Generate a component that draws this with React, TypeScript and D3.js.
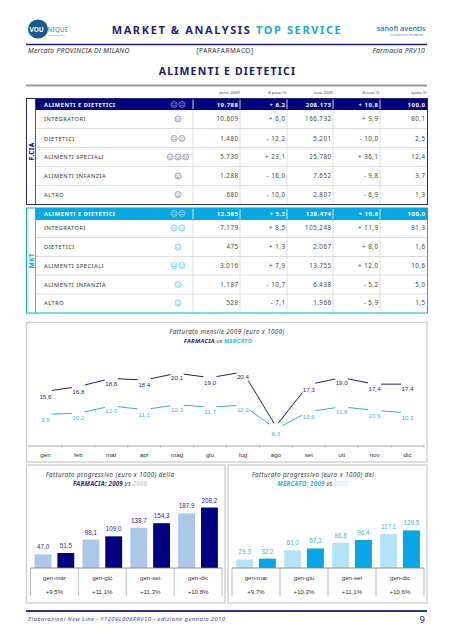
import React from "react";
import * as d3 from "d3";

const NAVY = "#000080";
const DEEP = "#1f1f6e";
const CYAN = "#0aa8e0";
const LINE_CYAN = "#2fb4d0";
const GREY = "#cfcfcf";
const SANS = "'Noto Sans', sans-serif";
const ARIAL = "'Liberation Sans', Arial, sans-serif";

const columnHeads = ["pezzi 2009", "Δ pezzi %", "euro 2009", "Δ euro %", "quota %"];
const rowNames = ["ALIMENTI E DIETETICI", "INTEGRATORI", "DIETETICI", "ALIMENTI SPECIALI", "ALIMENTI INFANZIA", "ALTRO"];
const fciaCells = [
  ["19.788", "+ 6,2", "208.173", "+ 10,8", "100,0"],
  ["10.609", "+ 6,0", "166.732", "+ 9,9", "80,1"],
  ["1.480", "- 12,2", "5.201", "- 10,0", "2,5"],
  ["5.730", "+ 23,1", "25.780", "+ 36,1", "12,4"],
  ["1.288", "- 16,0", "7.652", "- 9,8", "3,7"],
  ["680", "- 10,0", "2.807", "- 6,9", "1,3"],
];
const mktCells = [
  ["12.385", "+ 5,2", "129.474", "+ 10,6", "100,0"],
  ["7.179", "+ 8,5", "105.248", "+ 11,9", "81,3"],
  ["475", "+ 1,3", "2.067", "+ 8,0", "1,6"],
  ["3.016", "+ 7,9", "13.755", "+ 12,0", "10,6"],
  ["1.187", "- 10,7", "6.438", "- 5,2", "5,0"],
  ["528", "- 7,1", "1.966", "- 5,9", "1,5"],
];
const fciaFaces = ["hn", "n", "ns", "hhh", "s", "s"];
const mktFaces = ["hn", "nh", "n", "nh", "s", "s"];

const months = ["gen", "feb", "mar", "apr", "mag", "giu", "lug", "ago", "set", "ott", "nov", "dic"];
const farmaciaMonthly = [15.6, 16.8, 18.8, 18.4, 20.1, 19.0, 20.4, 7.0, 17.3, 19.0, 17.4, 17.4];
const mercatoMonthly = [9.9, 10.2, 12.0, 11.1, 12.3, 11.7, 12.2, 6.3, 10.6, 11.8, 10.9, 10.3];

const periods = ["gen-mar", "gen-giu", "gen-set", "gen-dic"];
const farmacia2008 = [47.0, 98.1, 138.7, 187.9];
const farmacia2009 = [51.5, 109.0, 154.3, 208.2];
const farmaciaDelta = ["+9,5%", "+11,1%", "+11,3%", "+10,8%"];
const mercato2008 = [29.3, 61.0, 86.8, 117.1];
const mercato2009 = [32.2, 67.3, 96.4, 129.5];
const mercatoDelta = ["+9,7%", "+10,3%", "+11,1%", "+10,6%"];

const fmt = (v: number) => v.toFixed(1).replace(".", ",");

function Face({ x, y, kind, color }: { x: number; y: number; kind: string; color: string }) {
  const mouth =
    kind === "h" ? `M${x - 1.6} ${y + 0.7}Q${x} ${y + 2.3} ${x + 1.6} ${y + 0.7}` :
    kind === "s" ? `M${x - 1.6} ${y + 1.8}Q${x} ${y + 0.2} ${x + 1.6} ${y + 1.8}` :
    `M${x - 1.7} ${y + 1}H${x + 1.7}`;
  return (
    <g stroke={color} fill="none" strokeWidth={0.6} opacity={0.8}>
      <circle cx={x} cy={y} r={3} />
      <path d={mouth} />
      <path d={`M${x - 1.7} ${y - 0.8}H${x - 0.4}M${x + 0.4} ${y - 0.8}H${x + 1.7}`} />
    </g>
  );
}

function Block({ top, headBottom, seps, bottom, textYs, cells, faces, color, side }: any) {
  const colEdges = [193, 240, 287, 333, 380, 427];
  return (
    <g>
      <rect x={26.5} y={top} width={401} height={headBottom - top} fill={color} />
      <rect x={27} y={top} width={8.5} height={bottom - top} fill="#fff" />
      {seps.map((y: number) => <line key={y} x1={35.5} x2={426.5} y1={y} y2={y} stroke="#d4d4d4" strokeWidth={0.8} />)}
      {colEdges.slice(0, 5).map((x, i) => (
        <g key={x}>
          <line x1={x} x2={x} y1={top + 1} y2={headBottom - 1} stroke="#fff" strokeWidth={0.8} />
          <line x1={x} x2={x} y1={headBottom} y2={bottom} stroke="#d4d4d4" strokeWidth={0.8} />
        </g>
      ))}
      <rect x={26.5} y={top} width={401} height={bottom - top} fill="none" stroke={color === NAVY ? "#2a2a66" : color} strokeWidth={1} />
      <line x1={35.5} x2={35.5} y1={top} y2={bottom} stroke={color === NAVY ? "#2a2a66" : color} strokeWidth={0.8} />
      <text transform={`translate(33.5,${(headBottom + bottom) / 2 - 6}) rotate(-90)`} textAnchor="middle" fontFamily={SANS} fontWeight={700} fontSize={6.5} letterSpacing={0.4} fill={color === NAVY ? NAVY : color}>{side}</text>
      {rowNames.map((n, r) => (
        <text key={n} x={44} y={textYs[r] + 2} fontFamily={SANS} fontSize={5.7} fontWeight={r === 0 ? 700 : 400} letterSpacing={0.5} fill={r === 0 ? "#fff" : "#333"}>{n}</text>
      ))}
      {faces.map((f: string, r: number) => {
        const cx = 178;
        return f.split("").map((k, i) => (
          <Face key={i} x={cx + (i - (f.length - 1) / 2) * 7.8} y={textYs[r]} kind={k} color={r === 0 ? "#fff" : color === NAVY ? "#3a3a90" : color} />
        ));
      })}
      {cells.map((row: string[], r: number) => row.map((c, j) => (
        <text key={j} x={colEdges[j + 1] - 1.5} y={textYs[r] + 2.2} textAnchor="end" fontFamily={SANS} fontSize={r === 0 ? 6 : 6.2} fontWeight={r === 0 ? 700 : 400} letterSpacing={0.5} fill={r === 0 ? "#fff" : "#444"}>{c}</text>
      )))}
    </g>
  );
}

function BarPanel({ x0, x1, a, b, deltas, light, dark, labelColor, title, titleColor, subject, yearColor, titleX }: any) {
  const base = 568;
  const y = d3.scaleLinear().domain([0, 210]).range([base, 507]);
  const gx = d3.scaleBand<string>().domain(periods).range([x0 + 4, x1 - 3]);
  const bx = d3.scaleBand<string>().domain(["a", "b"]).range([0, gx.bandwidth()]).paddingInner(0.26).paddingOuter(0.18);
  return (
    <g>
      <rect x={x0} y={465} width={x1 - x0} height={138} fill="#fff" stroke={GREY} strokeWidth={1.4} />
      <text x={titleX} y={476.5} textAnchor="middle" fontFamily={SANS} fontStyle="italic" fontSize={6.2} letterSpacing={0.42} fill="#333">{title}</text>
      <text x={titleX} y={485.5} textAnchor="middle" fontFamily={SANS} fontStyle="italic" fontSize={6.2} letterSpacing={0.2}>
        <tspan fontWeight={700} fill={titleColor}>{subject}: 2009</tspan>
        <tspan fill="#333">{"   vs   "}</tspan>
        <tspan fontWeight={700} fill={yearColor}>2008</tspan>
      </text>
      {periods.map((p, i) => {
        const g = gx(p) as number;
        return (
          <g key={p}>
            {[["a", a[i], light], ["b", b[i], dark]].map(([k, v, col]: any) => (
              <g key={k}>
                <rect x={g + (bx(k) as number)} y={y(v)} width={bx.bandwidth()} height={base - y(v)} fill={col} />
                <text x={g + (bx(k) as number) + bx.bandwidth() / 2} y={y(v) - 5} textAnchor="middle" fontFamily={ARIAL} fontSize={6.3} fill={labelColor}>{fmt(v)}</text>
              </g>
            ))}
            <text x={g + gx.bandwidth() / 2} y={580} textAnchor="middle" fontFamily={ARIAL} fontSize={6.1} fill="#333">{p}</text>
            <text x={g + gx.bandwidth() / 2} y={593.5} textAnchor="middle" fontFamily={ARIAL} fontSize={6.1} fill="#333">{deltas[i]}</text>
            <line x1={g} x2={g} y1={base} y2={596} stroke="#9a9a9a" strokeWidth={0.7} />
          </g>
        );
      })}
      <line x1={x1 - 3} x2={x1 - 3} y1={base} y2={596} stroke="#9a9a9a" strokeWidth={0.7} />
      <line x1={x0 + 4} x2={x1 - 3} y1={base} y2={base} stroke="#777" strokeWidth={0.8} />
    </g>
  );
}

export default function App() {
  const xBand = d3.scaleBand<string>().domain(months).range([29, 424]);
  const cx = (m: string) => (xBand(m) as number) + xBand.bandwidth() / 2;
  const y = d3.scaleLinear().domain([6.3, 20.4]).range([429, 372]);
  const lineGen = (vals: number[]) =>
    d3.line<number>().x((_, i) => cx(months[i])).y((d) => y(d))(vals) as string;
  const labels = (vals: number[], color: string) =>
    vals.map((v, i) => (
      <g key={i}>
        <rect x={cx(months[i]) - 6.5} y={y(v) - 3} width={13} height={11.5} fill="#fff" />
        <text x={cx(months[i])} y={y(v) + 7.2} textAnchor="middle" fontFamily={ARIAL} fontSize={6.2} fill={color}>{fmt(v)}</text>
      </g>
    ));

  return (
    <svg width={453} height={640} viewBox="0 0 453 640" style={{ position: "absolute", left: 0, top: 0, background: "#fff" }}>
      {/* header */}
      <ellipse cx={38} cy={29} rx={10} ry={9.5} fill="#1a5a90" />
      <text x={29.5} y={31.5} fontFamily={SANS} fontWeight={700} fontSize={6.5} fill="#fff">VOU</text>
      <text x={47.5} y={31.5} fontFamily={SANS} fontWeight={400} fontSize={6.2} letterSpacing={0.3} fill="#2f7f9f">NIQUE</text>
      <text x={48} y={35.5} fontFamily={SANS} fontSize={2.5} fill="#6a9ab0">data solutions</text>
      <text x={227} y={34} textAnchor="middle" fontFamily={SANS} fontWeight={700} fontSize={11} letterSpacing={1.62}>
        <tspan fill="#1f1f6e">MARKET &amp; ANALYSIS </tspan>
        <tspan fill="#1aa9d8">TOP SERVICE</tspan>
      </text>
      <text x={425.5} y={31} textAnchor="end" fontFamily={SANS} fontWeight={600} fontSize={7.2} fill="#3a7fb8">sanofi aventis</text>
      <text x={423} y={35.5} textAnchor="end" fontFamily={SANS} fontSize={2.6} fill="#3a80b0">La salute è ciò che importa</text>
      <line x1={26} x2={427} y1={44.5} y2={44.5} stroke={DEEP} strokeWidth={1.6} />
      <text x={28} y={53} fontFamily={SANS} fontStyle="italic" fontSize={6.8} letterSpacing={0.25} fill="#333">Mercato PROVINCIA DI MILANO</text>
      <text x={225} y={53} textAnchor="middle" fontFamily={SANS} fontSize={6.5} letterSpacing={0.5} fill="#333">[PARAFARMACO]</text>
      <text x={425} y={53} textAnchor="end" fontFamily={SANS} fontStyle="italic" fontSize={6.8} letterSpacing={0.25} fill="#333">Farmacia PRV10</text>
      <text x={227.5} y={75} textAnchor="middle" fontFamily={SANS} fontWeight={700} fontSize={10.5} letterSpacing={1.2} fill="#1a1a66">ALIMENTI E DIETETICI</text>
      <line x1={26} x2={427} y1={85.5} y2={85.5} stroke="#999" strokeWidth={2} />
      {columnHeads.map((h, i) => (
        <text key={h} x={[240, 287, 333, 380, 427][i] - 0.5} y={94} textAnchor="end" fontFamily={ARIAL} fontSize={4.2} fill="#555">{h}</text>
      ))}

      <Block top={98.5} headBottom={110} seps={[128.5, 147.5, 166.5, 185.5]} bottom={204.5}
        textYs={[104.5, 119, 138.5, 157, 176, 194.5]} cells={fciaCells} faces={fciaFaces} color={NAVY} side="F.CIA" />
      <Block top={208} headBottom={220} seps={[237.5, 256.5, 275, 294]} bottom={313}
        textYs={[213.5, 228, 247, 265.5, 284.5, 303]} cells={mktCells} faces={mktFaces} color={CYAN} side="MKT" />

      {/* monthly line panel */}
      <rect x={26.5} y={322.5} width={400.5} height={139.5} fill="#fff" stroke={GREY} strokeWidth={1.4} />
      <text x={227} y={334} textAnchor="middle" fontFamily={SANS} fontStyle="italic" fontSize={6.2} letterSpacing={0.4} fill="#333">Fatturato mensile 2009 (euro x 1000)</text>
      <text x={218} y={343} textAnchor="middle" fontFamily={SANS} fontStyle="italic" fontWeight={700} fontSize={6} letterSpacing={0.2}>
        <tspan fill={DEEP}>FARMACIA</tspan>
        <tspan fill="#333" fontWeight={400}>{" vs  "}</tspan>
        <tspan fill="#35b6e0">MERCATO</tspan>
      </text>
      <path d={lineGen(farmaciaMonthly)} fill="none" stroke={DEEP} strokeWidth={1} />
      <path d={lineGen(mercatoMonthly)} fill="none" stroke={LINE_CYAN} strokeWidth={1} />
      {labels(farmaciaMonthly, "#2a2a78")}
      {labels(mercatoMonthly, "#45b4d8")}
      <line x1={29} x2={424} y1={446} y2={446} stroke="#888" strokeWidth={0.7} />
      {xBand.domain().map((m) => (
        <g key={m}>
          <line x1={xBand(m)} x2={xBand(m)} y1={445} y2={447.5} stroke="#888" strokeWidth={0.6} />
          <text x={cx(m)} y={457} textAnchor="middle" fontFamily={ARIAL} fontSize={6.2} fill="#333">{m}</text>
        </g>
      ))}
      <line x1={424} x2={424} y1={445} y2={447.5} stroke="#888" strokeWidth={0.6} />

      <BarPanel x0={26.5} x1={225} a={farmacia2008} b={farmacia2009} deltas={farmaciaDelta} light="#abc8e8" dark={NAVY} titleX={110}
        labelColor="#2f2f80" title="Fatturato progressivo (euro x 1000) della" titleColor="#2a2a88" subject="FARMACIA" yearColor="#c5d6ec" />
      <BarPanel x0={228} x1={427} a={mercato2008} b={mercato2009} deltas={mercatoDelta} light="#b4e3f8" dark="#0aa5e6" titleX={313}
        labelColor="#45b4dc" title="Fatturato progressivo (euro x 1000) del" titleColor="#2fb0dc" subject="MERCATO" yearColor="#d5eefa" />

      {/* footer */}
      <line x1={26} x2={427} y1={611} y2={611} stroke="#33337a" strokeWidth={1.8} />
      <text x={28} y={620.5} fontFamily={SANS} fontStyle="italic" fontSize={5.9} letterSpacing={0.42} fill="#4a4a80">Elaborazioni New Line - Y1209L006PRV10 - edizione gennaio 2010</text>
      <text x={425} y={623} textAnchor="end" fontFamily={SANS} fontSize={9.5} fill="#2a2a78">9</text>
    </svg>
  );
}
